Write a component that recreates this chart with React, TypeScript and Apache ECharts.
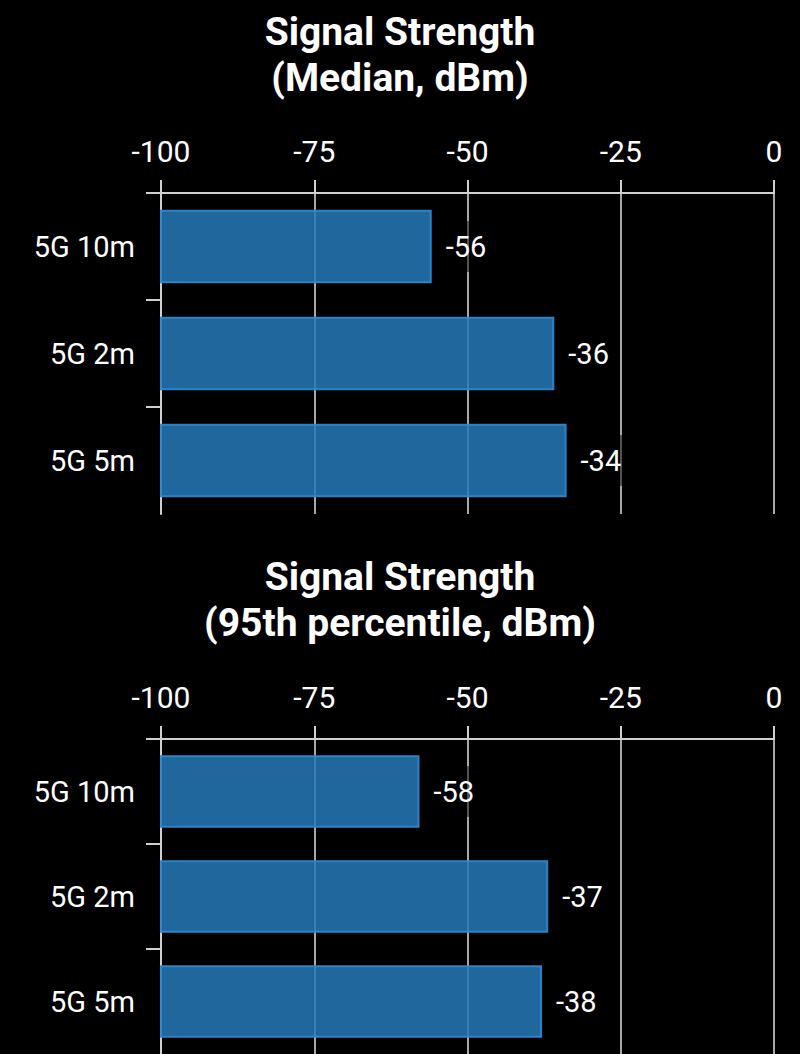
import React, { useEffect, useRef } from "react";
import * as echarts from "echarts";

const categories = ["5G 10m", "5G 2m", "5G 5m"];
const medianValues = [-56, -36, -34];
const p95Values = [-58, -37, -38];
const titles = ["Signal Strength\n(Median, dBm)", "Signal Strength\n(95th percentile, dBm)"];
const axisMin = -100;
const axisMax = 0;
const axisInterval = 25;

const FONT = "Roboto, 'Noto Sans', sans-serif";

function makeSeries(values: number[], idx: number) {
  return {
    type: "custom",
    xAxisIndex: idx,
    yAxisIndex: idx,
    encode: { x: 0, y: 1 },
    data: values.map((v, i) => [v, categories[i]]),
    renderItem: (params: any, api: any) => {
      const v = api.value(0);
      const cat = api.value(1);
      const start = api.coord([axisMin, cat]);
      const end = api.coord([v, cat]);
      const band = api.size([0, 1])[1];
      const h = band * 0.67;
      const tickY = start[1] - band / 2;
      return {
        type: "group",
        children: [
          {
            type: "line",
            shape: { x1: start[0] - 15, y1: tickY, x2: start[0], y2: tickY },
            style: { stroke: "#cfcfcf", lineWidth: 2 },
          },
          {
            type: "rect",
            shape: { x: start[0], y: start[1] - h / 2, width: end[0] - start[0], height: h },
            style: { fill: "rgba(36,121,184,0.85)", stroke: "rgba(46,136,206,0.95)", lineWidth: 2 },
          },
          {
            type: "text",
            x: end[0] + 11,
            y: end[1],
            style: {
              text: String(v),
              fill: "#ffffff",
              fontSize: 29,
              fontFamily: FONT,
              verticalAlign: "middle",
              align: "left",
              backgroundColor: "rgba(0,0,0,0.5)",
              padding: [11, 4],
            },
          },
        ],
      };
    },
  };
}

function makeXAxis(idx: number) {
  return {
    type: "value",
    gridIndex: idx,
    position: "top",
    min: axisMin,
    max: axisMax,
    interval: axisInterval,
    axisLine: { show: true, lineStyle: { color: "#cfcfcf", width: 2 } },
    axisTick: { show: true, length: 13, lineStyle: { color: "#cfcfcf", width: 2 } },
    splitLine: { show: true, lineStyle: { color: "#a8a8a8", width: 2 } },
    axisLabel: { color: "#ffffff", fontSize: 30, fontFamily: FONT, margin: 27 },
  };
}

function makeYAxis(idx: number) {
  return {
    type: "category",
    gridIndex: idx,
    position: "left",
    data: categories,
    inverse: true,
    axisLine: { show: true, onZero: false, lineStyle: { color: "#cfcfcf", width: 2 } },
    axisTick: { show: false },
    axisLabel: { color: "#ffffff", fontSize: 29, fontFamily: FONT, margin: 26 },
  };
}

export default function App() {
  const ref = useRef<HTMLDivElement>(null);
  useEffect(() => {
    if (!ref.current) return;
    const chart = echarts.init(ref.current, undefined, { renderer: "svg" });
    chart.setOption({
      animation: false,
      backgroundColor: "#000000",
      title: titles.map((t, i) => ({
        text: t,
        left: "center",
        top: i === 0 ? 4 : 549,
        textStyle: {
          color: "#ffffff",
          fontSize: 39,
          fontWeight: "bold",
          fontFamily: FONT,
          lineHeight: 46,
        },
      })),
      grid: [
        { left: 161, right: 26, top: 193, height: 321 },
        { left: 161, right: 26, top: 739, height: 320 },
      ],
      xAxis: [makeXAxis(0), makeXAxis(1)],
      yAxis: [makeYAxis(0), makeYAxis(1)],
      series: [makeSeries(medianValues, 0), makeSeries(p95Values, 1)],
    });
    return () => chart.dispose();
  }, []);
  return (
    <div
      ref={ref}
      style={{ position: "absolute", left: 0, top: 0, width: 800, height: 1054, background: "#000" }}
    />
  );
}
